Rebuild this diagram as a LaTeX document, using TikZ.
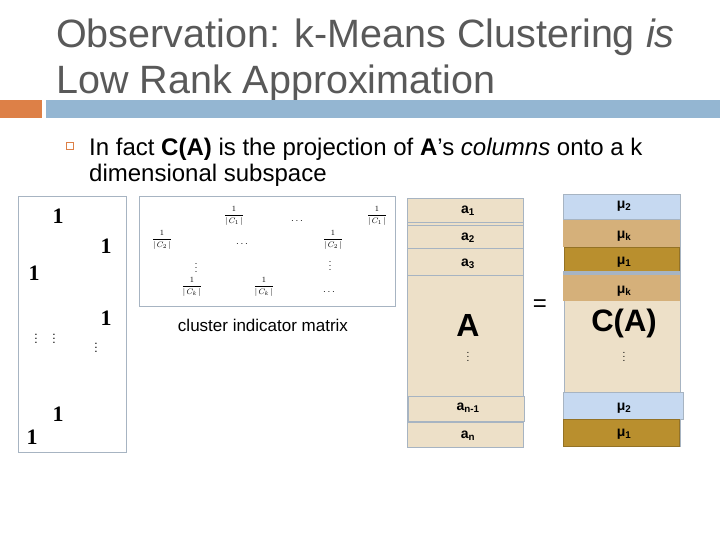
\documentclass[tikz,border=0pt]{standalone}
\usepackage{fontspec}
\setmainfont{Liberation Sans}
\newfontfamily\serifone{Liberation Serif}
\begin{document}
\begin{tikzpicture}[x=1pt,y=-1pt,
  bx/.style={draw=boxgray,line width=0.8pt},
  rowa/.style={draw=boxgray,fill=beige,line width=0.6pt},
  lbl/.style={font=\fontsize{14}{14}\selectfont\bfseries},
  one/.style={font=\fontsize{22}{22}\selectfont\serifone\bfseries},
  frac/.style={font=\fontsize{8}{8}\selectfont, inner sep=0pt}]
\definecolor{titlegray}{HTML}{595959}
\definecolor{orangebar}{HTML}{DD8047}
\definecolor{bluebar}{HTML}{94B6D2}
\definecolor{boxgray}{HTML}{A7B4C2}
\definecolor{beige}{HTML}{EDE0C8}
\definecolor{lblue}{HTML}{C6D9F1}
\definecolor{tan}{HTML}{D5B07A}
\definecolor{gold}{HTML}{B98F2E}
\newcommand{\cfr}[1]{$\displaystyle\frac{1}{|\,C_{#1}\,|}$}
\useasboundingbox (0,0) rectangle (720,540);
\fill[white] (0,0) rectangle (720,540);
% title
\node[anchor=west,text=titlegray,font=\fontsize{39.5}{39.5}\selectfont,inner sep=0pt] (t1) at (56,37) {Observation: k-Means Clustering \textit{is}};
\node[anchor=west,text=titlegray,font=\fontsize{39.5}{39.5}\selectfont,inner sep=0pt] (t2) at (56,83) {Low Rank Approximation};
\fill[orangebar] (0,100) rectangle (42,118);
\fill[bluebar] (46,100) rectangle (720,118);
% bullet
\draw[orangebar,line width=0.8pt] (66,142) rectangle (73,149);
\node[anchor=west,font=\fontsize{24}{26}\selectfont,align=left,inner sep=0pt] (b1) at (89,162) {In fact \textbf{C(A)} is the projection of \textbf{A}’s \textit{columns} onto a k\\dimensional subspace};
% left matrix
\draw[bx] (18,196) rectangle (126,452);
\node[one] (o1) at (58,216) {1};
\node[one] (o2) at (106,246) {1};
\node[one] (o3) at (34,273) {1};
\node[one] (o4) at (106,318) {1};
\node[font=\large,inner sep=0pt] (d1) at (36,336) {$\vdots$};
\node[font=\large,inner sep=0pt] (d2) at (54,336) {$\vdots$};
\node[font=\large,inner sep=0pt] (d3) at (96,345) {$\vdots$};
\node[one] (o5) at (58,414) {1};
\node[one] (o6) at (32,437) {1};
% cluster matrix
\draw[bx] (139,196) rectangle (395,306);
\node[frac] (f1) at (234,216) {\cfr{1}};
\node (e1) at (297,221) {$\cdots$};
\node[frac] (f2) at (377,216) {\cfr{1}};
\node[frac] (f3) at (162,240) {\cfr{2}};
\node (e2) at (242,244) {$\cdots$};
\node[frac] (f4) at (333,240) {\cfr{2}};
\node[font=\small,inner sep=0pt] (v1) at (196,265) {$\vdots$};
\node[font=\small,inner sep=0pt] (v2) at (330,263) {$\vdots$};
\node[frac] (f5) at (192,287) {\cfr{k}};
\node[frac] (f6) at (264,287) {\cfr{k}};
\node (e3) at (329,292) {$\cdots$};
\node[font=\fontsize{17}{17}\selectfont] (cim) at (263,325) {cluster indicator matrix};
% A column
\draw[rowa] (407,198) rectangle (523,447);
\draw[rowa] (407,198) rectangle (523,222);
\draw[rowa] (407,225) rectangle (523,248);
\draw[rowa] (407,248) rectangle (523,275);
\draw[rowa,line width=1pt] (408,396) rectangle (524,421);
\draw[rowa] (407,422) rectangle (523,447);
\node[lbl] (a1) at (468,211) {a\textsubscript{1}};
\node[lbl] (a2) at (468,238) {a\textsubscript{2}};
\node[lbl] (a3) at (468,264) {a\textsubscript{3}};
\node[font=\fontsize{32}{32}\selectfont\bfseries] (A) at (468,325) {A};
\node (ad) at (468,354) {$\vdots$};
\node[lbl] (an1) at (468,408) {a\textsubscript{n-1}};
\node[lbl] (an) at (468,436) {a\textsubscript{n}};
\node[font=\fontsize{24}{24}\selectfont] (eq) at (540,306) {=};
% C(A) column
\fill[beige] (564,194) rectangle (680,446);
\draw[boxgray,line width=0.6pt] (564,194) rectangle (680,446);
\draw[rowa,fill=lblue] (563,194) rectangle (680,219);
\fill[tan] (563,220) rectangle (680,247);
\draw[gold!80!black,fill=gold,line width=0.5pt] (564,247) rectangle (679,271);
\fill[boxgray] (563,271) rectangle (680,275);
\fill[tan] (563,275) rectangle (680,301);
\draw[rowa,fill=lblue] (563,392) rectangle (683,419);
\draw[gold!80!black,fill=gold,line width=0.5pt] (563,419) rectangle (679,446);
\node[lbl] (m1) at (624,206) {μ\textsubscript{2}};
\node[lbl] (m2) at (624,236) {μ\textsubscript{k}};
\node[lbl] (m3) at (624,262) {μ\textsubscript{1}};
\node[lbl] (m4) at (624,291) {μ\textsubscript{k}};
\node[font=\fontsize{31}{31}\selectfont\bfseries] (CA) at (624,323) {C(A)};
\node (cd) at (624,354) {$\vdots$};
\node[lbl] (m5) at (624,408) {μ\textsubscript{2}};
\node[lbl] (m6) at (624,434) {μ\textsubscript{1}};
\end{tikzpicture}
\end{document}
